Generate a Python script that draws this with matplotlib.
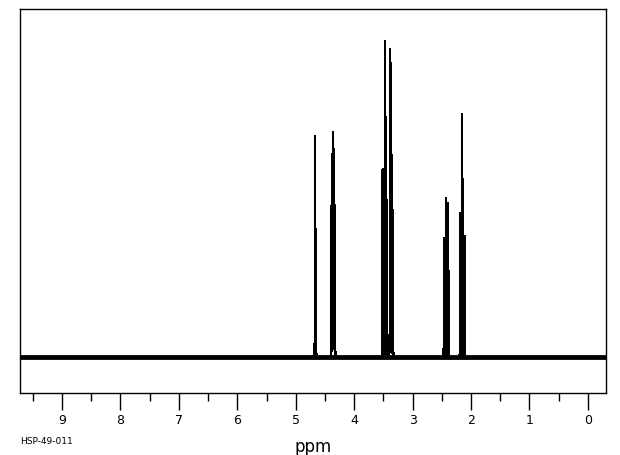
import numpy as np
import matplotlib
matplotlib.use("Agg")
import matplotlib.pyplot as plt

# Peak list (ppm, height in arbitrary units; baseline = 0)
peak_ppm = [4.671, 4.655, 4.385, 4.370, 4.358, 4.345, 4.330,
            3.513, 3.468, 3.451, 3.388, 3.377, 3.360, 3.337,
            2.464, 2.424, 2.390, 2.185, 2.150, 2.110]
peak_height = [220, 127, 150, 200, 222, 205, 150,
               188, 315, 238, 305, 290, 200, 146,
               119, 159, 154, 144, 243, 121]
tick_values = [9, 8, 7, 6, 5, 4, 3, 2, 1, 0]
tick_labels = ["9", "8", "7", "6", "5", "4", "3", "2", "1", "0"]
sample_id = "HSP-49-011"
x_label = "ppm"

# style
GAMMA = 0.0011
NOISE_HALF = 2.4
XMIN, XMAX = 9.72, -0.31

x = np.linspace(XMAX, XMIN, 80001)
y = np.zeros_like(x)
for p, h in zip(peak_ppm, peak_height):
    y += h / (1.0 + ((x - p) / GAMMA) ** 2)

fig = plt.figure(figsize=(6.2, 4.55), dpi=100)
ax = fig.add_axes([20 / 620, (455 - 393) / 455, (606 - 20) / 620, (393 - 9) / 455])
ax.fill_between(x, -NOISE_HALF, NOISE_HALF, color="black", linewidth=0)
ax.plot(x, y, color="black", linewidth=1.0, antialiased=False)
ax.set_xlim(XMIN, XMAX)
ax.set_ylim(-36, 348)

for s in ax.spines.values():
    s.set_linewidth(1.0)
ax.set_yticks([])
ax.set_xticks(tick_values)
ax.set_xticklabels(tick_labels, fontsize=9, family="DejaVu Sans")
ax.set_xticks(np.arange(0.5, 9.6, 1.0), minor=True)
ax.tick_params(axis="x", which="major", direction="out", length=12, width=1, pad=3)
ax.tick_params(axis="x", which="minor", direction="out", length=6, width=1)
ax.set_xlabel(x_label, fontsize=12, labelpad=8)
fig.text(20 / 620, 1 - 441 / 455, sample_id, fontsize=6.5, va="center", ha="left")

fig.savefig("out.png", dpi=100)
